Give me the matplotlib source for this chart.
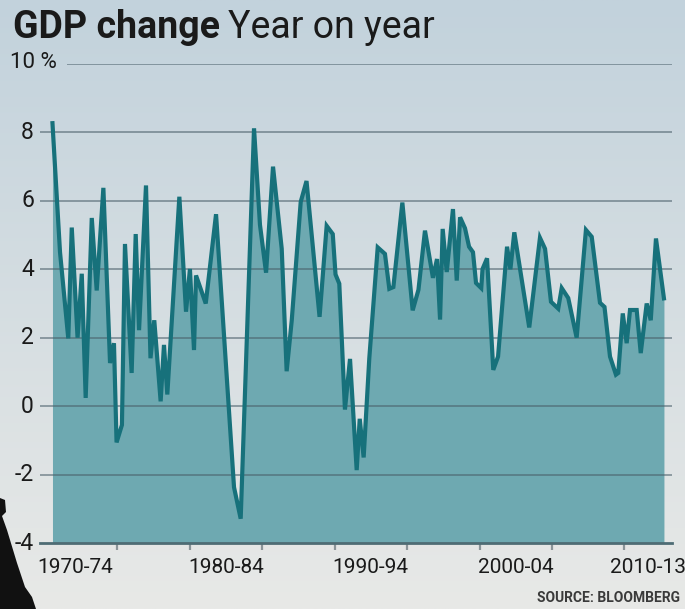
import numpy as np
import matplotlib
matplotlib.use("Agg")
import matplotlib.pyplot as plt
from matplotlib import font_manager
from matplotlib.patches import Polygon

# Year-on-year GDP growth, %, turning points of the series
years = [1970.55, 1971.07, 1971.64, 1971.88, 1972.28, 1972.57, 1972.84, 1973.26,
         1973.60, 1974.06, 1974.52, 1974.79, 1974.97, 1975.34, 1975.55, 1976.01,
         1976.29, 1976.52, 1977.00, 1977.31, 1977.57, 1978.01, 1978.24, 1978.47,
         1979.30, 1979.76, 1980.03, 1980.31, 1980.45, 1981.12, 1981.83, 1982.68,
         1983.07, 1983.53, 1984.45, 1984.86, 1985.28, 1985.76, 1986.36, 1986.70,
         1987.05, 1987.67, 1988.07, 1988.97, 1989.46, 1989.88, 1990.07, 1990.33,
         1990.72, 1991.07, 1991.53, 1991.74, 1992.01, 1992.40, 1992.98, 1993.48,
         1993.78, 1994.06, 1994.68, 1995.39, 1995.79, 1996.24, 1996.79, 1997.07,
         1997.28, 1997.46, 1997.74, 1998.17, 1998.43, 1998.66, 1999.00, 1999.28,
         1999.55, 1999.76, 2000.12, 2000.21, 2000.52, 2000.95, 2001.28, 2001.90,
         2002.13, 2002.40, 2003.43, 2004.17, 2004.52, 2004.93, 2005.43, 2005.67,
         2006.12, 2006.70, 2007.34, 2007.74, 2008.31, 2008.62, 2009.00, 2009.41,
         2009.57, 2009.88, 2010.15, 2010.38, 2010.84, 2011.12, 2011.53, 2011.81,
         2012.17, 2012.72]
gdp_growth = [8.27, 4.5, 1.98, 5.22, 2.0, 3.87, 0.24, 5.5,
              3.38, 6.38, 1.26, 1.84, -1.06, -0.55, 4.74, 0.97,
              5.03, 2.22, 6.45, 1.4, 2.51, 0.14, 1.79, 0.34,
              6.12, 2.76, 4.01, 1.64, 3.82, 3.0, 5.61, 0.14,
              -2.37, -3.29, 8.12, 5.3, 3.9, 7.0, 4.6, 1.02,
              2.5, 5.97, 6.58, 2.61, 5.27, 5.03, 3.85, 3.58,
              -0.1, 1.38, -1.87, -0.37, -1.5, 1.4, 4.64, 4.45,
              3.43, 3.48, 5.95, 2.8, 3.4, 5.13, 3.75, 4.3,
              2.53, 5.18, 3.92, 5.76, 3.67, 5.52, 5.2, 4.66,
              4.5, 3.6, 3.45, 4.01, 4.32, 1.06, 1.45, 4.66,
              4.0, 5.08, 2.3, 4.92, 4.6, 3.05, 2.85, 3.45,
              3.16, 2.0, 5.15, 4.95, 3.02, 2.9, 1.45, 0.92,
              0.97, 2.71, 1.84, 2.81, 2.81, 1.55, 3.0, 2.51,
              4.9, 3.15]

y_ticks = [-4, -2, 0, 2, 4, 6, 8, 10]
y_tick_labels = ["-4", "-2", "0", "2", "4", "6", "8", "10 %"]
period_labels = ["1970-74", "1980-84", "1990-94", "2000-04", "2010-13"]
period_label_pos = [1972.1, 1982.5, 1992.5, 2002.5, 2011.6]
tick_years = [1975, 1980, 1985, 1990, 1995, 2000, 2005, 2010]


def pick_font(candidates):
    for name in candidates:
        try:
            font_manager.findfont(name, fallback_to_default=False)
            return name
        except Exception:
            continue
    return "DejaVu Sans"


FONT = pick_font(["Liberation Sans Narrow", "Roboto", "Open Sans"])
plt.rcParams["font.family"] = [FONT, "DejaVu Sans"]

W, H = 685, 609
fig = plt.figure(figsize=(W / 100, H / 100), dpi=100)

# soft blue-grey backdrop, lighter towards the bottom
bg = fig.add_axes([0, 0, 1, 1], zorder=-10)
grad = np.linspace(0, 1, 256)[:, None]
top = np.array([194, 210, 220]) / 255
bot = np.array([232, 233, 231]) / 255
img = top[None, None, :] * (1 - grad[..., None]) + bot[None, None, :] * grad[..., None]
img = np.repeat(img, 2, axis=1)
bg.imshow(img, aspect="auto", extent=[0, 1, 0, 1], origin="upper")
bg.set_axis_off()

# dark silhouette in the lower-left corner
sil = [(0, 498), (5, 500), (6, 512), (2, 516), (7, 530), (17, 563), (25, 587),
       (32, 597), (36, 609), (0, 609)]
bg.add_patch(Polygon([(x / W, 1 - y / H) for x, y in sil], closed=True,
                     facecolor="#111111", edgecolor="none"))

left, right, top_px, bottom_px = 40, 672, 64, 543
ax = fig.add_axes([left / W, 1 - bottom_px / H, (right - left) / W,
                   (bottom_px - top_px) / H])
ax.set_facecolor("none")
x0 = 1970 + (left - 44.5) / 14.5
x1 = 1970 + (right - 44.5) / 14.5
ax.set_xlim(x0, x1)
ax.set_ylim(-4, 10)

fill_col = "#6ea9b1"
line_col = "#17717b"

ax.fill_between(years, gdp_growth, -4, color=fill_col, lw=0, zorder=1)

# horizontal guides
for v in y_ticks[1:]:
    xs = x0 + (67 - left) / 14.5 if v == 10 else x0
    ax.plot([xs, x1], [v, v], color="#4a5f6a", lw=1.4, alpha=0.55,
            zorder=2, solid_capstyle="butt")

ax.plot(years, gdp_growth, color=line_col, lw=3.0, zorder=3,
        solid_joinstyle="miter")

for s in ["top", "right", "left"]:
    ax.spines[s].set_visible(False)
ax.spines["bottom"].set_color("#4e6c74")
ax.spines["bottom"].set_linewidth(2.0)

ax.set_yticks(y_ticks)
ax.set_yticklabels([])
ax.tick_params(axis="y", length=0)
for v, lab in zip(y_ticks, y_tick_labels):
    if v == 10:
        ax.text(x0 + (10 - left) / 14.5, v + 0.05, lab, ha="left", va="center",
                fontsize=16, color="#1a1a1a")
    else:
        ax.text(x0 - 6 / 14.5, v, lab, ha="right", va="center",
                fontsize=16.5, color="#1a1a1a", clip_on=False)

ax.set_xticks(tick_years)
ax.set_xticklabels([])
ax.tick_params(axis="x", direction="out", length=5, width=1.6, color="#8a9498")
for pos, lab in zip(period_label_pos, period_labels):
    ax.text(pos, -4.45, lab, ha="center", va="top", fontsize=15,
            color="#1a1a1a", clip_on=False)

# title: bold lead-in followed by regular subtitle
t1 = fig.text(13 / W, 1 - 38 / H, "GDP change", fontsize=27, fontweight="bold",
              color="#1a1a1a", ha="left", va="baseline")
fig.canvas.draw()
bb = t1.get_window_extent()
fig.text((bb.x1 + 8) / W, 1 - 38 / H, "Year on year", fontsize=27,
         color="#1a1a1a", ha="left", va="baseline")

fig.text(680 / W, 1 - 602 / H, "SOURCE: BLOOMBERG", fontsize=10,
         fontweight="bold", color="#3a3a3a", ha="right", va="baseline")

fig.savefig("out.png", dpi=100)
